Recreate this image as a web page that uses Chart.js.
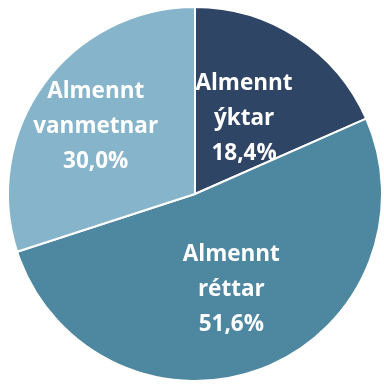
<!DOCTYPE html>
<html>
<head>
<meta charset="utf-8">
<script src="https://cdn.jsdelivr.net/npm/chart.js@4/dist/chart.umd.min.js"></script>
<style>
  html, body { margin: 0; padding: 0; background: #fff; }
  #wrap { width: 384px; height: 384px; }
</style>
</head>
<body>
<div id="wrap"><canvas id="myChart" width="384" height="384"></canvas></div>
<script>
const categories = [['Almennt', 'ýktar'], ['Almennt', 'réttar'], ['Almennt', 'vanmetnar']];
const shares = [18.4, 51.6, 30.0];
const colors = ['#2f4566', '#4e87a0', '#86b5cb'];

// label placement: share of the radius along the slice's mid angle, plus a small nudge
const labelRadius = [0.48, 0.545, 0.63];
const labelNudge = [[0, 0], [0, 0], [-4, 2]];

const sliceLabels = {
  id: 'sliceLabels',
  afterDatasetsDraw(chart) {
    const ctx = chart.ctx;
    const meta = chart.getDatasetMeta(0);
    ctx.save();
    ctx.fillStyle = '#ffffff';
    ctx.font = 'bold 22.5px "Open Sans", sans-serif';
    ctx.textAlign = 'center';
    ctx.textBaseline = 'middle';
    meta.data.forEach((arc, i) => {
      const p = arc.getProps(['x', 'y', 'startAngle', 'endAngle', 'outerRadius']);
      const mid = (p.startAngle + p.endAngle) / 2;
      const r = p.outerRadius * labelRadius[i];
      const cx = p.x + Math.cos(mid) * r + labelNudge[i][0];
      const cy = p.y + Math.sin(mid) * r + labelNudge[i][1];
      const lines = categories[i].concat(shares[i].toFixed(1).replace('.', ',') + '%');
      const lh = 35;
      lines.forEach((t, k) => {
        ctx.fillText(t, cx, cy + (k - (lines.length - 1) / 2) * lh);
      });
    });
    ctx.restore();
  }
};

new Chart('myChart', {
  type: 'pie',
  data: {
    labels: categories.map(c => c.join(' ')),
    datasets: [{
      data: shares,
      backgroundColor: colors,
      borderColor: '#ffffff',
      borderWidth: 2
    }]
  },
  options: {
    responsive: false,
    animation: false,
    layout: { padding: { left: 7, top: 6, right: 1, bottom: 2 } },
    plugins: {
      legend: { display: false },
      tooltip: { enabled: false }
    }
  },
  plugins: [sliceLabels]
});
</script>
</body>
</html>
